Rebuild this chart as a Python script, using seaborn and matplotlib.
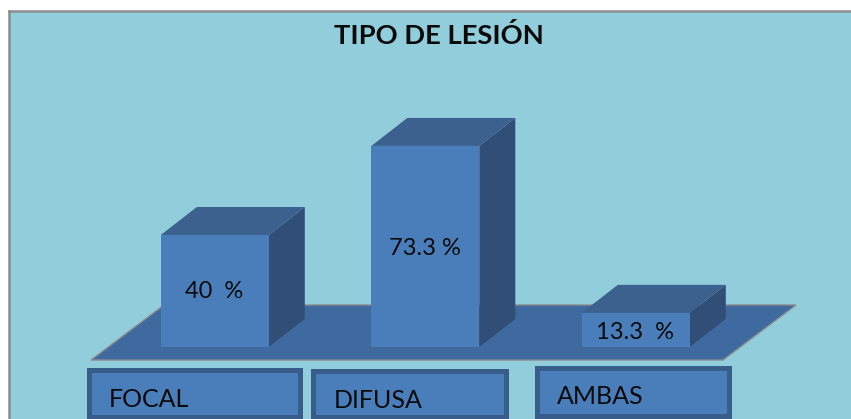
import matplotlib
matplotlib.use("Agg")
import pandas as pd
import seaborn as sns
import matplotlib.pyplot as plt
from matplotlib.patches import Polygon, Rectangle

sns.set_theme(style="white")
plt.rcParams["font.family"] = ["Lato", "DejaVu Sans"]

# Chart data
categories = ["FOCAL", "DIFUSA", "AMBAS"]
bar_heights = [40.0, 71.8, 12.2]
value_labels = ["40  %", "73.3 %", "13.3  %"]
title = "TIPO DE LESIÓN"

W, H = 851, 419
PANEL_LEFT, PANEL_TOP = 9, 11
X0_PX, STEP_PX = 214.8, 210.5   # category 0 centre, px per category
BASE_PX, UNIT_PX = 347.0, 2.8   # bar baseline, px per value unit

FRONT = "#4A7EBB"
TOP = "#3D618F"
SIDE = "#314F76"
FLOOR = "#3F6AA0"
PANEL = "#92CDDC"
GREY = "#8C8C8C"
BOX_EDGE = "#385D8A"
TEXT = "#0A0A0A"

fig = plt.figure(figsize=(W / 100, H / 100), dpi=100, facecolor="white")
ax = fig.add_axes([PANEL_LEFT / W, 0, 1 - PANEL_LEFT / W, 1 - PANEL_TOP / H])
ax.set_facecolor(PANEL)


def dx(px):
    return px / STEP_PX


def vy(px):
    # screen y (down from top) to value units
    return (BASE_PX - px) / UNIT_PX


def xp(px):
    return (px - X0_PX) / STEP_PX


df = pd.DataFrame({"tipo": categories, "valor": bar_heights})
sns.barplot(data=df, x="tipo", y="valor", color=FRONT, saturation=1, width=108 / STEP_PX,
            linewidth=0, ax=ax, zorder=3)

ax.set_xlim(xp(PANEL_LEFT), xp(W))
ax.set_ylim(vy(H), vy(PANEL_TOP))
ax.set_xlabel("")
ax.set_ylabel("")
ax.set_xticks([])
ax.set_yticks([])
for side in ["right", "bottom"]:
    ax.spines[side].set_visible(False)
for side in ["left", "top"]:
    ax.spines[side].set_color(GREY)
    ax.spines[side].set_linewidth(1.8)

# floor of the 3d plot
floor = [(91, 360), (723, 360), (796, 305), (164, 305)]
ax.add_patch(Polygon([(xp(a), vy(b)) for a, b in floor], closed=True, facecolor=FLOOR,
                     edgecolor=GREY, linewidth=1.0, zorder=1))

# depth faces built from the seaborn bars
depth_x, depth_y = dx(36), 28 / UNIT_PX
for bar in ax.patches[:len(categories)]:
    x0, x1 = bar.get_x(), bar.get_x() + bar.get_width()
    h = bar.get_height()
    ax.add_patch(Polygon([(x1, 0), (x1 + depth_x, depth_y), (x1 + depth_x, h + depth_y), (x1, h)],
                         closed=True, facecolor=SIDE, edgecolor="none", zorder=2))
    ax.add_patch(Polygon([(x0, h), (x1, h), (x1 + depth_x, h + depth_y), (x0 + depth_x, h + depth_y)],
                         closed=True, facecolor=TOP, edgecolor="none", zorder=2))

label_x = [214.5, 424.5, 634.5]
label_y = [292, 248, 332]
for i, lab in enumerate(value_labels):
    ax.text(xp(label_x[i]), vy(label_y[i]), lab, ha="center", va="center", fontsize=17, color=TEXT, zorder=5)

# category boxes below the floor (left, top, right, bottom on the stroke centre)
boxes = [(89, 369.5, 299.5, 416.5), (313, 371, 506, 416.5), (537, 368, 729, 415.5)]
text_x = [109, 334, 557]
text_y = [399, 400, 396]
for (bl, bt, br, bb), tx, ty, cat in zip(boxes, text_x, text_y, categories):
    ax.add_patch(Rectangle((xp(bl), vy(bb)), (br - bl) / STEP_PX, (bb - bt) / UNIT_PX, facecolor=FRONT,
                           edgecolor=BOX_EDGE, linewidth=3.6, zorder=4, clip_on=False))
    ax.text(xp(tx), vy(ty), cat, ha="left", va="center", fontsize=18, color=TEXT, zorder=5)

ax.text(xp(438.5), vy(35), title, ha="center", va="center", fontsize=19.7, fontweight="bold",
        color=TEXT, zorder=5)

fig.savefig("out.png", dpi=100, facecolor="white")
